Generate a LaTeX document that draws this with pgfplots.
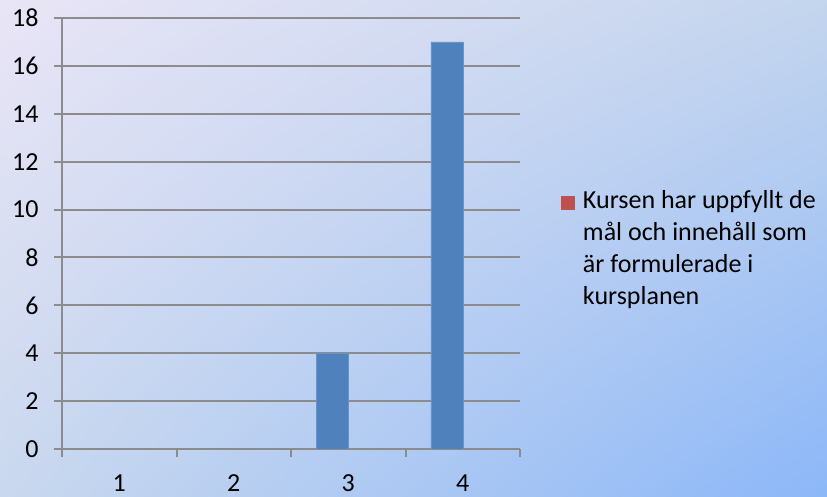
\documentclass[border=0pt]{standalone}
\usepackage{pgfplots}
\pgfplotsset{compat=1.18}
\usetikzlibrary{shadings}
\usepackage{fontspec}
\setmainfont{Carlito}
\definecolor{bgUL}{RGB}{233,229,246}
\definecolor{bgUR}{RGB}{196,213,237}
\definecolor{bgLL}{RGB}{201,216,238}
\definecolor{bgLR}{RGB}{140,183,248}
\definecolor{barblue}{RGB}{79,129,189}
\definecolor{barred}{RGB}{192,80,77}
\definecolor{gridgray}{RGB}{140,140,140}
\begin{document}
\begin{tikzpicture}
\useasboundingbox (0,0) rectangle (827pt,497pt);
\shade[upper left=bgUL, upper right=bgUR, lower left=bgLL, lower right=bgLR] (0,0) rectangle (827pt,497pt);
\begin{axis}[
  at={(62pt,48pt)}, anchor=south west,
  scale only axis, width=458pt, height=431pt,
  xmin=0.5, xmax=4.5, ymin=0, ymax=18,
  axis x line=bottom, axis y line=left,
  axis line style={-, draw=gridgray, line width=2pt},
  ytick={0,2,...,18},
  xtick={1,2,3,4},
  minor xtick={0.5,1.5,2.5,3.5,4.5},
  tick align=outside,
  major tick length=8pt,
  minor tick length=8pt,
  x tick style={draw=none},
  minor x tick style={draw=gridgray, line width=2pt},
  y tick style={draw=gridgray, line width=2pt},
  ymajorgrids,
  major grid style={draw=gridgray, line width=2pt},
  /pgf/number format/assume math mode=true,
  ticklabel style={font=\fontsize{26}{30}\selectfont, text=black},
  yticklabel style={xshift=-12pt},
  xticklabel style={yshift=-14pt},
  legend style={draw=none, fill=none, inner sep=0pt, outer sep=0pt,
    at={(1.0895,0.599)}, anchor=north west,
    nodes={anchor=base west, font=\fontsize{26}{32}\selectfont, inner sep=0pt},
    column sep=8pt},
  legend image code/.code={\fill[#1] (0pt,-1pt) rectangle (14pt,13pt);},
]
\addplot[ybar, bar width=32pt, bar shift=-16pt, fill=barblue, draw=barblue!85!white, forget plot]
  coordinates {(1,0) (2,0) (3,4) (4,17)};
\addlegendimage{fill=barred, draw=none}
\addlegendentry{\parbox[t]{260pt}{\raggedright Kursen har uppfyllt de\\mål och innehåll som\\är formulerade i\\kursplanen}}
\end{axis}
\end{tikzpicture}
\end{document}
